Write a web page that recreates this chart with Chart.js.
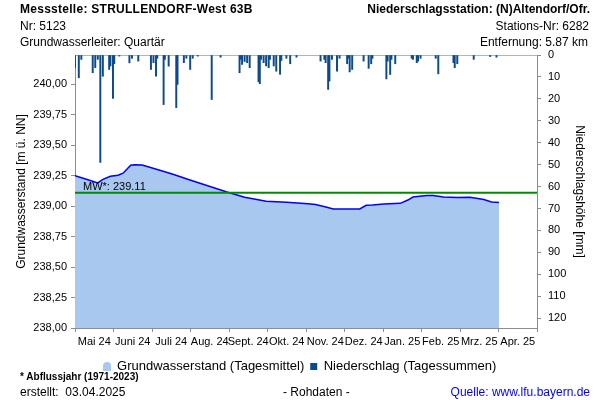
<!DOCTYPE html>
<html>
<head>
<meta charset="utf-8">
<script src="https://cdn.jsdelivr.net/npm/chart.js@4.4.1/dist/chart.umd.min.js"></script>
<style>
  html, body { margin: 0; padding: 0; background: #fff; }
  #wrap { position: relative; width: 600px; height: 400px; font-family: "Liberation Sans", Arial, sans-serif; color: #000; }
  #wrap canvas { position: absolute; left: 0; top: 0; }
  .t { position: absolute; font-size: 12px; line-height: 14px; white-space: pre; }
  .b { font-weight: bold; }
</style>
</head>
<body>
<div id="wrap">
  <canvas id="chart" width="600" height="400"></canvas>

  <!-- header -->
  <div class="t b" style="left:20px; top:2px; letter-spacing:0.27px">Messstelle: STRULLENDORF-West 63B</div>
  <div class="t" style="left:20px; top:19px">Nr: 5123</div>
  <div class="t" style="left:20px; top:35px">Grundwasserleiter: Quartär</div>
  <div class="t b" style="right:10px; top:2px">Niederschlagsstation: (N)Altendorf/Ofr.</div>
  <div class="t" style="right:11px; top:19px">Stations-Nr: 6282</div>
  <div class="t" style="right:12px; top:35px">Entfernung: 5.87 km</div>

  <!-- footer -->
  <div class="t b" style="left:20px; top:371px; font-size:10px; line-height:12px">* Abflussjahr (1971-2023)</div>
  <div class="t" style="left:20px; top:385px">erstellt:  03.04.2025</div>
  <div class="t" style="left:283px; top:385px">- Rohdaten -</div>
  <div class="t" style="right:10px; top:385px; color:#0000ff">Quelle: www.lfu.bayern.de</div>
</div>

<script>
// x axis: days since 01.05.2024, one label per month
const monthLabels = ['Mai 24', 'Juni 24', 'Juli 24', 'Aug. 24', 'Sept. 24', 'Okt. 24',
                     'Nov. 24', 'Dez. 24', 'Jan. 25', 'Feb. 25', 'Mrz. 25', 'Apr. 25'];
const daysShown = 365;
const levelTicks = [238, 238.25, 238.5, 238.75, 239, 239.25, 239.5, 239.75, 240];
const precipTicks = [0, 10, 20, 30, 40, 50, 60, 70, 80, 90, 100, 110, 120];

// Grundwasserstand (Tagesmittel), m ü. NN
const gwDays   = [0, 9, 18, 22, 28, 34, 38, 44, 47, 53, 67, 78, 89, 120, 134, 151, 167, 184, 190, 199,
                  204, 225, 230, 235, 244, 257, 263, 267, 278, 283, 291, 302, 312, 323, 329, 335];
const gwLevels = [239.25, 239.22, 239.19, 239.22, 239.245, 239.253, 239.27, 239.335, 239.34, 239.338,
                  239.294, 239.26, 239.22, 239.116, 239.073, 239.04, 239.032, 239.02, 239.013, 238.99,
                  238.977, 238.977, 239.007, 239.01, 239.018, 239.023, 239.05, 239.075, 239.087, 239.087,
                  239.075, 239.07, 239.073, 239.054, 239.034, 239.03];
const meanLevel = 239.11;

// Niederschlag (Tagessummen), mm
const precipDays = [0, 3, 5, 14, 16, 18, 20, 22, 27, 28, 30, 31, 35, 43, 45, 50, 60, 62, 64, 65,
                    70, 71, 74, 80, 81, 86, 88, 91, 93, 97, 108, 115, 130, 131, 132, 134, 136, 138, 145, 146,
                    147, 149, 151, 153, 154, 157, 159, 162, 163, 167, 170, 175, 194, 197, 198, 200, 201, 203, 207, 209,
                    215, 216, 217, 219, 228, 232, 234, 235, 246, 247, 249, 250, 253, 266, 267, 270, 271, 273, 285, 287,
                    299, 300, 302, 315, 328, 333];
const precipMm   = [5.8, 10.4, 2, 8.1, 5.8, 2, 49, 9.7, 6.6, 5, 19.8, 4, 0.5, 3.6, 1.5, 2.8, 6.6, 3.5, 9.7, 1.5,
                    22.6, 2, 5.1, 24, 13.4, 3.5, 1.5, 6.6, 1.5, 0.5, 20.3, 1, 8.1, 2, 4.3, 3, 3.5, 5.8, 12.2, 13.1,
                    2, 3.5, 5, 5.8, 2, 5, 7.4, 8.8, 2.5, 1.5, 4, 1, 2.8, 2, 3.5, 15.7, 11.9, 2, 7.4, 1.5,
                    4, 1.5, 7.7, 6.6, 2.8, 6.1, 4, 1.5, 10.9, 2.8, 8.9, 2, 4, 1.5, 2, 3.5, 2.8, 1.5, 1.5, 8.6,
                    3.5, 5.8, 4, 2, 0.7, 1];

const FONT = '"Liberation Sans", Arial, sans-serif';
const gwFill = '#a8c8ef';
const gwLine = '#0000ff';
const precipColor = '#0c4a8a';
const axisGray = '#8c8c8c';

// small "area" icon for the legend
const gwIcon = document.createElement('canvas');
gwIcon.width = 8; gwIcon.height = 9;
const gi = gwIcon.getContext('2d');
gi.fillStyle = gwFill;
gi.beginPath();
gi.arc(4, 4, 4, Math.PI, 0);
gi.lineTo(8, 9);
gi.lineTo(0, 9);
gi.closePath();
gi.fill();

const deNum = v => v.toFixed(2).replace('.', ',');

const mwLabel = {
    id: 'mwLabel',
    afterDatasetsDraw(chart) {
        const { ctx, chartArea, scales } = chart;
        const y = scales.y.getPixelForValue(meanLevel);
        ctx.save();
        ctx.font = '11px ' + FONT;
        ctx.fillStyle = '#000';
        ctx.textBaseline = 'alphabetic';
        ctx.fillText('MW*: ' + meanLevel.toFixed(2), chartArea.left + 8, y - 3);
        ctx.restore();
    }
};

new Chart(document.getElementById('chart'), {
    type: 'line',
    data: {
        datasets: [
            {
                label: 'Grundwasserstand (Tagesmittel)',
                data: gwDays.map((d, i) => ({ x: d, y: gwLevels[i] })),
                borderColor: gwLine,
                borderWidth: 1.5,
                backgroundColor: gwFill,
                fill: 'start',
                pointRadius: 0,
                tension: 0,
                yAxisID: 'y',
                order: 3
            },
            {
                label: 'MW',
                data: [{ x: 0, y: meanLevel }, { x: daysShown, y: meanLevel }],
                borderColor: '#008c00',
                borderWidth: 2,
                pointRadius: 0,
                fill: false,
                yAxisID: 'y',
                order: 2
            },
            {
                type: 'bar',
                label: 'Niederschlag (Tagessummen)',
                data: precipDays.map((d, i) => ({ x: d, y: precipMm[i] })),
                backgroundColor: precipColor,
                barThickness: 1.3,
                grouped: false,
                yAxisID: 'yP',
                order: 1
            }
        ]
    },
    options: {
        responsive: false,
        animation: false,
        layout: { padding: { top: 55, left: 0, right: 0, bottom: 17 } },
        plugins: {
            tooltip: { enabled: false },
            legend: {
                position: 'bottom',
                labels: {
                    font: { size: 13, family: FONT },
                    color: '#000',
                    usePointStyle: true,
                    boxWidth: 7,
                    boxHeight: 7,
                    padding: 6,
                    generateLabels: () => [
                        { text: 'Grundwasserstand (Tagesmittel)', pointStyle: gwIcon, fillStyle: gwFill,
                          strokeStyle: gwFill, lineWidth: 0, datasetIndex: 0 },
                        { text: 'Niederschlag (Tagessummen)', pointStyle: 'rect', fillStyle: precipColor,
                          strokeStyle: precipColor, lineWidth: 0, datasetIndex: 2 }
                    ]
                }
            }
        },
        scales: {
            x: {
                type: 'linear',
                offset: false,
                min: 0,
                max: daysShown,
                afterBuildTicks: s => {
                    s.ticks = monthLabels.concat(['']).map((_, k) => ({ value: k * daysShown / 12 }));
                },
                afterFit: s => { s.height = 26; },
                ticks: {
                    autoSkip: false,
                    maxRotation: 0,
                    padding: 3,
                    labelOffset: 19.25,
                    color: '#000',
                    font: { size: 11, family: FONT },
                    callback: (v, i) => monthLabels[i] || ''
                },
                grid: { drawOnChartArea: false, offset: false, tickLength: 4, color: axisGray },
                border: { color: axisGray }
            },
            y: {
                position: 'left',
                min: 238,
                max: 240.24,
                afterBuildTicks: s => { s.ticks = levelTicks.map(v => ({ value: v })); },
                afterFit: s => { s.width = 75; },
                ticks: {
                    padding: 4,
                    color: '#000',
                    font: { size: 11, family: FONT },
                    callback: v => deNum(v)
                },
                grid: { drawOnChartArea: false, tickLength: 4, color: axisGray },
                border: { color: axisGray },
                title: {
                    display: true,
                    text: 'Grundwasserstand [m ü. NN]',
                    color: '#000',
                    font: { size: 12, family: FONT },
                    padding: { top: 14, bottom: 0 }
                }
            },
            yP: {
                position: 'right',
                reverse: true,
                min: 0,
                max: 124.5,
                afterBuildTicks: s => { s.ticks = precipTicks.map(v => ({ value: v })); },
                afterFit: s => { s.width = 63; },
                ticks: {
                    padding: 7,
                    color: '#000',
                    font: { size: 11, family: FONT }
                },
                grid: {
                    drawOnChartArea: true,
                    tickLength: 4,
                    tickColor: axisGray,
                    color: c => (c.tick && c.tick.value === 0) ? '#b4b4b4' : 'rgba(0,0,0,0)'
                },
                border: { color: axisGray },
                title: {
                    display: true,
                    text: 'Niederschlagshöhe [mm]',
                    color: '#000',
                    font: { size: 12, family: FONT },
                    padding: { top: 13, bottom: 0 }
                }
            }
        }
    },
    plugins: [mwLabel]
});
</script>
</body>
</html>
